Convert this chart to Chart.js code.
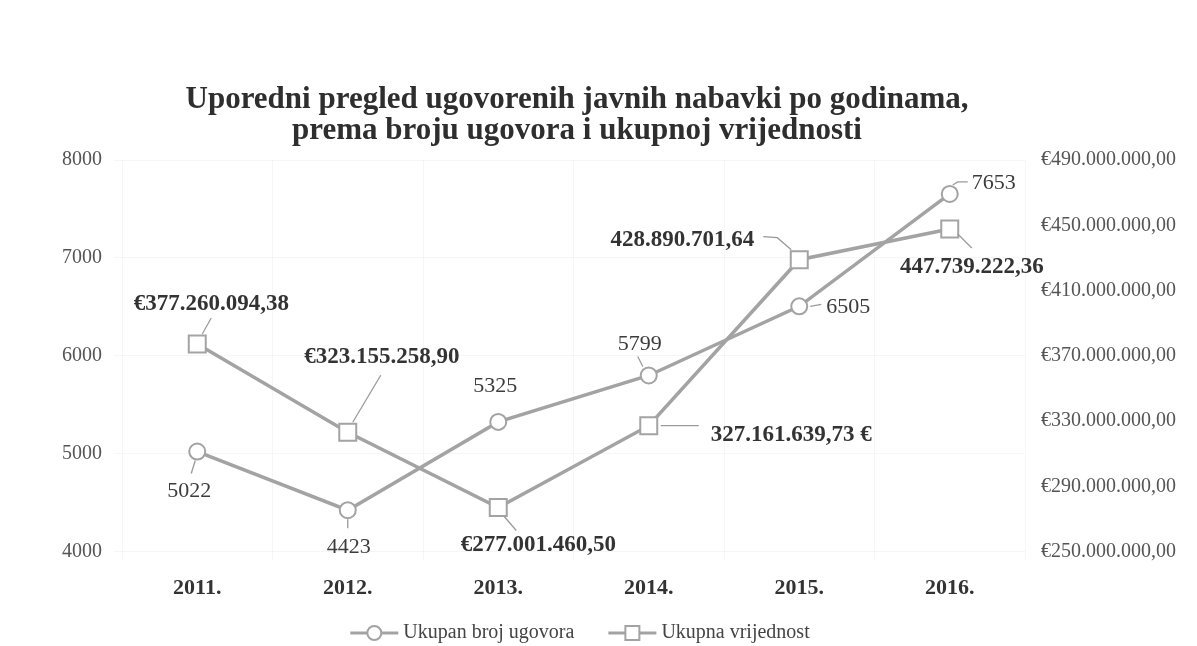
<!DOCTYPE html>
<html>
<head>
<meta charset="utf-8">
<script src="https://cdn.jsdelivr.net/npm/chart.js@4"></script>
<style>
html, body { margin: 0; padding: 0; background: #fff; }
#wrap { width: 1197px; height: 646px; }
</style>
</head>
<body>
<div id="wrap"><canvas id="lineChart" width="1197" height="646"></canvas></div>
<script>
// data
var years = ['2011.', '2012.', '2013.', '2014.', '2015.', '2016.'];
var brojUgovora = [5022, 4423, 5325, 5799, 6505, 7653];
var vrijednost = [377260094.38, 323155258.90, 277001460.50, 327161639.73, 428890701.64, 447739222.36];
var brojLabels = ['5022', '4423', '5325', '5799', '6505', '7653'];
var vrijednostLabels = ['€377.260.094,38', '€323.155.258,90', '€277.001.460,50', '327.161.639,73 €', '428.890.701,64', '447.739.222,36'];
var titleLines = ['Uporedni pregled ugovorenih javnih nabavki po godinama,', 'prema broju ugovora i ukupnoj vrijednosti'];
var legendNames = ['Ukupan broj ugovora', 'Ukupna vrijednost'];

var lineColor = '#a3a3a3';
var serif = '"Liberation Serif", "Times New Roman", serif';

// label placement relative to each point: dx, dy, align, leader polyline
var labelPos = [
    [
        { dx: -8, dy: 40, align: 'center', leader: [[-2, 9], [-6, 22]] },
        { dx: 1, dy: 37, align: 'center', leader: [[0, 9], [0, 18]] },
        { dx: -3, dy: -36, align: 'center', leader: null },
        { dx: -9, dy: -31, align: 'center', leader: [[-6, -9], [-11, -19]] },
        { dx: 27, dy: 1, align: 'left', leader: [[11, 0], [22, -2]] },
        { dx: 22, dy: -11, align: 'left', leader: [[3, -9], [8, -12], [18, -12]] }
    ],
    [
        { dx: 14, dy: -40, align: 'center', leader: [[5, -10], [14, -26]] },
        { dx: 34, dy: -75, align: 'center', leader: [[5, -10], [33, -57]] },
        { dx: 40, dy: 38, align: 'center', leader: [[6, 9], [18, 23]] },
        { dx: 62, dy: 9, align: 'left', leader: [[12, 0], [50, 0]] },
        { dx: -45, dy: -20, align: 'right', leader: [[-36, -23], [-22, -22], [-8, -10]] },
        { dx: 22, dy: 38, align: 'center', leader: [[8, 5], [22, 19]] }
    ]
];

var formatEuro = function(v) {
    return '€' + Math.round(v).toString().replace(/\B(?=(\d{3})+(?!\d))/g, '.') + ',00';
};

var labelPlugin = {
    id: 'labelPlugin',
    afterDatasetsDraw: function(chart) {
        var ctx = chart.ctx;
        ctx.save();
        [brojLabels, vrijednostLabels].forEach(function(texts, di) {
            var meta = chart.getDatasetMeta(di);
            ctx.font = di === 0 ? '22px ' + serif : 'bold 23px ' + serif;
            ctx.fillStyle = di === 0 ? '#3c3c3c' : '#333';
            meta.data.forEach(function(pt, i) {
                var p = labelPos[di][i];
                if (p.leader) {
                    ctx.beginPath();
                    ctx.strokeStyle = '#9a9a9a';
                    ctx.lineWidth = 1.3;
                    p.leader.forEach(function(q, k) {
                        if (k === 0) ctx.moveTo(pt.x + q[0], pt.y + q[1]);
                        else ctx.lineTo(pt.x + q[0], pt.y + q[1]);
                    });
                    ctx.stroke();
                }
                ctx.textAlign = p.align;
                ctx.textBaseline = 'middle';
                ctx.fillText(texts[i], pt.x + p.dx, pt.y + p.dy);
            });
        });
        ctx.restore();
    },
    afterDraw: function(chart) {
        var ctx = chart.ctx;
        ctx.save();
        // title
        ctx.fillStyle = '#2e2e2e';
        ctx.textAlign = 'center';
        ctx.textBaseline = 'middle';
        ctx.font = 'bold 31px ' + serif;
        titleLines.forEach(function(t, i) {
            ctx.fillText(t, 577, 100 + i * 31);
        });
        // legend
        ctx.font = '20px ' + serif;
        var lineLen = 48, gap = 5, itemGap = 34;
        var widths = legendNames.map(function(n) { return lineLen + gap + ctx.measureText(n).width; });
        var total = widths[0] + widths[1] + itemGap;
        var x = 580 - total / 2, y = 633;
        legendNames.forEach(function(name, i) {
            ctx.strokeStyle = lineColor;
            ctx.lineWidth = 3;
            ctx.beginPath();
            ctx.moveTo(x, y);
            ctx.lineTo(x + lineLen, y);
            ctx.stroke();
            ctx.fillStyle = '#fff';
            ctx.lineWidth = 2;
            ctx.beginPath();
            if (i === 0) ctx.arc(x + lineLen / 2, y, 7, 0, Math.PI * 2);
            else ctx.rect(x + lineLen / 2 - 7, y - 7, 14, 14);
            ctx.fill();
            ctx.stroke();
            ctx.fillStyle = '#444';
            ctx.textAlign = 'left';
            ctx.fillText(name, x + lineLen + gap, y);
            x += widths[i] + itemGap;
        });
        ctx.restore();
    }
};

var lineChart = document.getElementById('lineChart');

var myChart = new Chart(lineChart, {
    type: 'line',
    data: {
        labels: years,
        datasets: [
            {
                label: legendNames[0],
                data: brojUgovora,
                yAxisID: 'y',
                borderColor: lineColor,
                borderWidth: 3.5,
                backgroundColor: '#fff',
                pointStyle: 'circle',
                pointRadius: 8,
                pointBorderWidth: 2,
                pointBorderColor: lineColor,
                pointBackgroundColor: '#fff',
                lineTension: 0,
                fill: false
            },
            {
                label: legendNames[1],
                data: vrijednost,
                yAxisID: 'y1',
                borderColor: lineColor,
                borderWidth: 3.5,
                backgroundColor: '#fff',
                pointStyle: 'rect',
                pointRadius: 12,
                pointBorderWidth: 2,
                pointBorderColor: lineColor,
                pointBackgroundColor: '#fff',
                lineTension: 0,
                fill: false
            }
        ]
    },
    options: {
        responsive: false,
        animation: false,
        layout: { padding: { top: 160, bottom: 28, left: 0, right: 0 } },
        plugins: {
            legend: { display: false },
            title: { display: false },
            tooltip: { enabled: false }
        },
        scales: {
            x: {
                offset: true,
                grid: { color: 'rgba(0,0,0,0.035)', offset: true },
                border: { display: false },
                ticks: {
                    color: '#333',
                    padding: 16,
                    font: { family: serif, size: 22, weight: 'bold' }
                }
            },
            y: {
                position: 'left',
                min: 4000,
                max: 8000,
                afterFit: function(s) { s.width = 122; },
                grid: { color: 'rgba(0,0,0,0.035)' },
                border: { display: false },
                ticks: {
                    stepSize: 1000,
                    padding: 12,
                    color: '#555',
                    font: { family: serif, size: 20 },
                    callback: function(v) { return String(v); }
                }
            },
            y1: {
                position: 'right',
                min: 250000000,
                max: 490000000,
                afterFit: function(s) { s.width = 172; },
                grid: { display: false },
                border: { display: false },
                ticks: {
                    stepSize: 40000000,
                    padding: 8,
                    color: '#555',
                    font: { family: serif, size: 20 },
                    callback: function(v) { return formatEuro(v); }
                }
            }
        }
    },
    plugins: [labelPlugin]
});
</script>
</body>
</html>
